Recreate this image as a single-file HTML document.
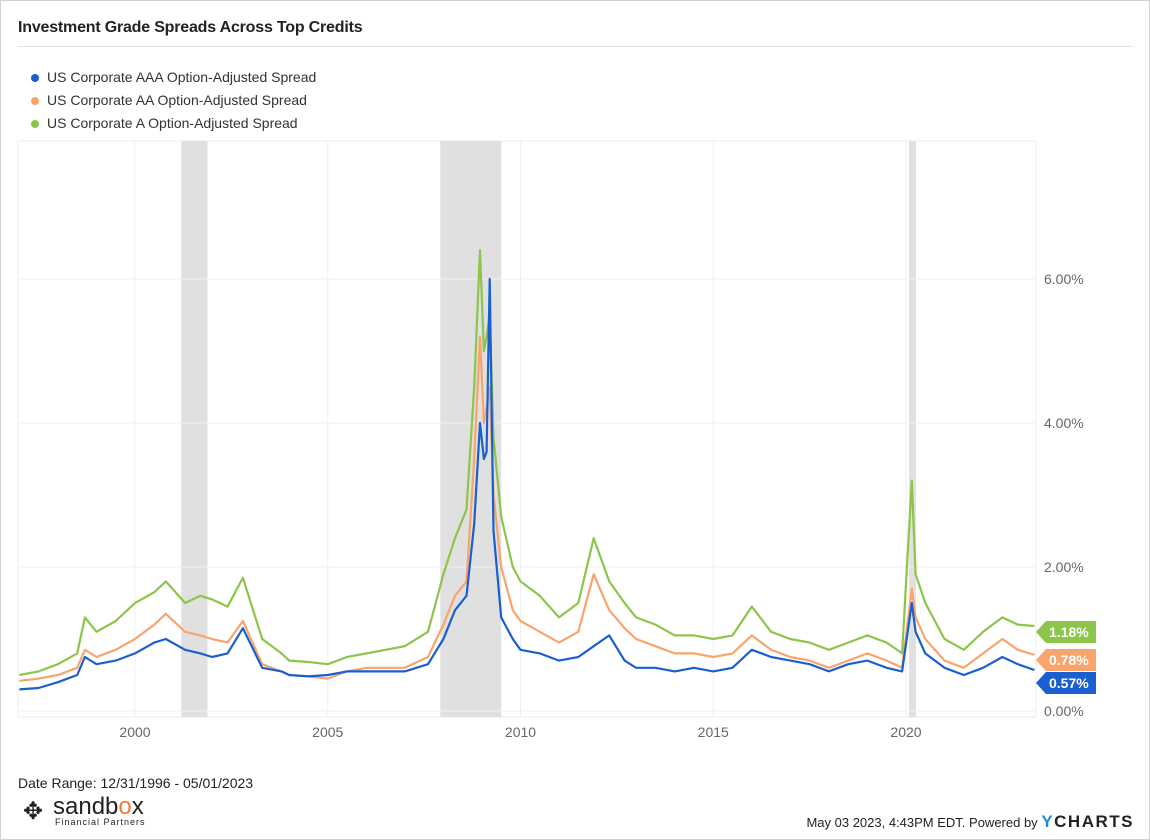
<!DOCTYPE html>
<html><head><meta charset="utf-8"><style>
body{margin:0;background:#fff;font-family:"Liberation Sans",sans-serif;}
#wrap{position:relative;width:1148px;height:838px;border:1px solid #d0d0d0;overflow:hidden;}
.t{position:absolute;white-space:nowrap;}
</style></head><body>
<div id="wrap">
<div class="t" style="left:17px;top:18px;font-size:16px;font-weight:bold;color:#222;letter-spacing:-0.2px;">Investment Grade Spreads Across Top Credits</div>
<div style="position:absolute;left:17px;top:45px;width:1115px;height:1px;background:#e3e3e3;"></div>
<div>
<div class="t" style="left:30px;top:68px;font-size:14px;color:#333;"><span style="display:inline-block;width:8px;height:8px;border-radius:4px;background:#1a5fd0;margin-right:8px;"></span>US Corporate AAA Option-Adjusted Spread</div>
<div class="t" style="left:30px;top:91px;font-size:14px;color:#333;"><span style="display:inline-block;width:8px;height:8px;border-radius:4px;background:#f9a46c;margin-right:8px;"></span>US Corporate AA Option-Adjusted Spread</div>
<div class="t" style="left:30px;top:114px;font-size:14px;color:#333;"><span style="display:inline-block;width:8px;height:8px;border-radius:4px;background:#8dc54a;margin-right:8px;"></span>US Corporate A Option-Adjusted Spread</div>
</div>
<svg id="chart" width="1150" height="760" style="position:absolute;left:0;top:0;"></svg>
<div class="t" style="left:17px;top:774px;font-size:14px;color:#222;">Date Range: 12/31/1996 - 05/01/2023</div>
<div class="t" style="left:22px;top:794px;">
<span style="position:absolute;left:0;top:2px;font-size:24px;color:#222;">✥</span>
<span style="position:absolute;left:30px;top:-2px;font-size:24px;color:#222;">sandb<span style="color:#f07a3a">o</span>x</span>
<span style="position:absolute;left:32px;top:22px;font-size:9px;letter-spacing:1px;color:#222;">Financial Partners</span>
</div>
<div class="t" style="right:15px;top:811px;font-size:13px;color:#222;">May 03 2023, 4:43PM EDT. Powered by <span style="font-weight:bold;font-size:17px;letter-spacing:1.5px;"><span style="color:#1a8fd0">Y</span>CHARTS</span></div>
</div>
<script>
const dates=[1997,1997.5,1998,1998.5,1998.7,1999,1999.5,2000,2000.5,2000.8,2001.3,2001.7,2002,2002.4,2002.8,2003.3,2003.8,2004,2004.5,2005,2005.5,2006,2006.5,2007,2007.6,2008,2008.3,2008.6,2008.8,2008.95,2009.05,2009.12,2009.2,2009.3,2009.5,2009.8,2010,2010.5,2011,2011.5,2011.9,2012.3,2012.7,2013,2013.5,2014,2014.5,2015,2015.5,2016,2016.5,2017,2017.5,2018,2018.5,2019,2019.5,2019.9,2020.15,2020.25,2020.5,2021,2021.5,2022,2022.5,2022.9,2023.33];
const aaa=[0.3,0.32,0.4,0.5,0.75,0.65,0.7,0.8,0.95,1.0,0.85,0.8,0.75,0.8,1.15,0.6,0.55,0.5,0.48,0.5,0.55,0.55,0.55,0.55,0.65,1.0,1.4,1.6,2.6,4.0,3.5,3.6,6.0,2.5,1.3,1.0,0.85,0.8,0.7,0.75,0.9,1.05,0.7,0.6,0.6,0.55,0.6,0.55,0.6,0.85,0.75,0.7,0.65,0.55,0.65,0.7,0.6,0.55,1.5,1.1,0.8,0.6,0.5,0.6,0.75,0.65,0.57];
const aa=[0.42,0.45,0.5,0.6,0.85,0.75,0.85,1.0,1.2,1.35,1.1,1.05,1.0,0.95,1.25,0.65,0.55,0.5,0.48,0.45,0.55,0.6,0.6,0.6,0.75,1.2,1.6,1.8,3.5,5.2,4.0,4.2,4.5,3.0,2.0,1.4,1.25,1.1,0.95,1.1,1.9,1.4,1.15,1.0,0.9,0.8,0.8,0.75,0.8,1.05,0.85,0.75,0.7,0.6,0.7,0.8,0.7,0.6,1.7,1.3,1.0,0.7,0.6,0.8,1.0,0.85,0.78];
const aA=[0.5,0.55,0.65,0.8,1.3,1.1,1.25,1.5,1.65,1.8,1.5,1.6,1.55,1.45,1.85,1.0,0.8,0.7,0.68,0.65,0.75,0.8,0.85,0.9,1.1,1.9,2.4,2.8,4.5,6.4,5.0,5.2,5.5,3.8,2.7,2.0,1.8,1.6,1.3,1.5,2.4,1.8,1.5,1.3,1.2,1.05,1.05,1.0,1.05,1.45,1.1,1.0,0.95,0.85,0.95,1.05,0.95,0.8,3.2,1.9,1.5,1.0,0.85,1.1,1.3,1.2,1.18];
const recessions=[[2001.2,2001.88],[2007.92,2009.5],[2020.08,2020.26]];
const xTicks=[2000,2005,2010,2015,2020];
const yTicks=[0,2,4,6];
const X=y=>134+(y-2000)*38.55;
const Y=v=>710-v*72;
const NS='http://www.w3.org/2000/svg';
const svg=document.getElementById('chart');
function mk(tag,attrs){const e=document.createElementNS(NS,tag);for(const k in attrs)e.setAttribute(k,attrs[k]);svg.appendChild(e);return e;}
let r=mk('rect',{x:17,y:140,width:1018,height:576,fill:'none',stroke:'#eeeeee'});


recessions.forEach(rc=>{const e=mk('rect',{x:X(rc[0]),y:140,width:X(rc[1])-X(rc[0]),height:576,fill:'#e0e0e0'});

});
xTicks.forEach(t=>{const l=mk('line',{x1:X(t),x2:X(t),y1:140,y2:716,stroke:'#efefef'});


const tx=mk('text',{x:X(t),y:736,'text-anchor':'middle','font-size':14,fill:'#666','font-family':'Liberation Sans, sans-serif'});tx.textContent=t;

});
yTicks.forEach(t=>{const l=mk('line',{x1:17,x2:1035,y1:Y(t),y2:Y(t),stroke:'#efefef'});


const tx=mk('text',{x:1043,y:Y(t)+5,'font-size':14,fill:'#666','font-family':'Liberation Sans, sans-serif'});tx.textContent=t.toFixed(2)+'%';

});
const series=[[aA,'#8dc54a','series-a'],[aa,'#f9a46c','series-aa'],[aaa,'#1a5fd0','series-aaa']];
series.forEach(s=>{const d=s[0].map((v,i)=>(i?'L':'M')+X(dates[i]).toFixed(1)+','+Y(v).toFixed(1)).join('');
const p=mk('path',{d:d,fill:'none',stroke:s[1],'stroke-width':2.2,'stroke-linejoin':'round'});

});
const tagY=[631,659,682];
series.forEach((s,i)=>{const v=s[0][s[0].length-1];const cy=tagY[i];
const g=mk('path',{d:`M1035,${cy}L1045,${cy-11}L1095,${cy-11}L1095,${cy+11}L1045,${cy+11}Z`,fill:s[1]});


const tx=mk('text',{x:1048,y:cy+5,'font-size':14,'font-weight':'bold',fill:'#fff','font-family':'Liberation Sans, sans-serif'});tx.textContent=v.toFixed(2)+'%';

});
</script>
</body></html>
